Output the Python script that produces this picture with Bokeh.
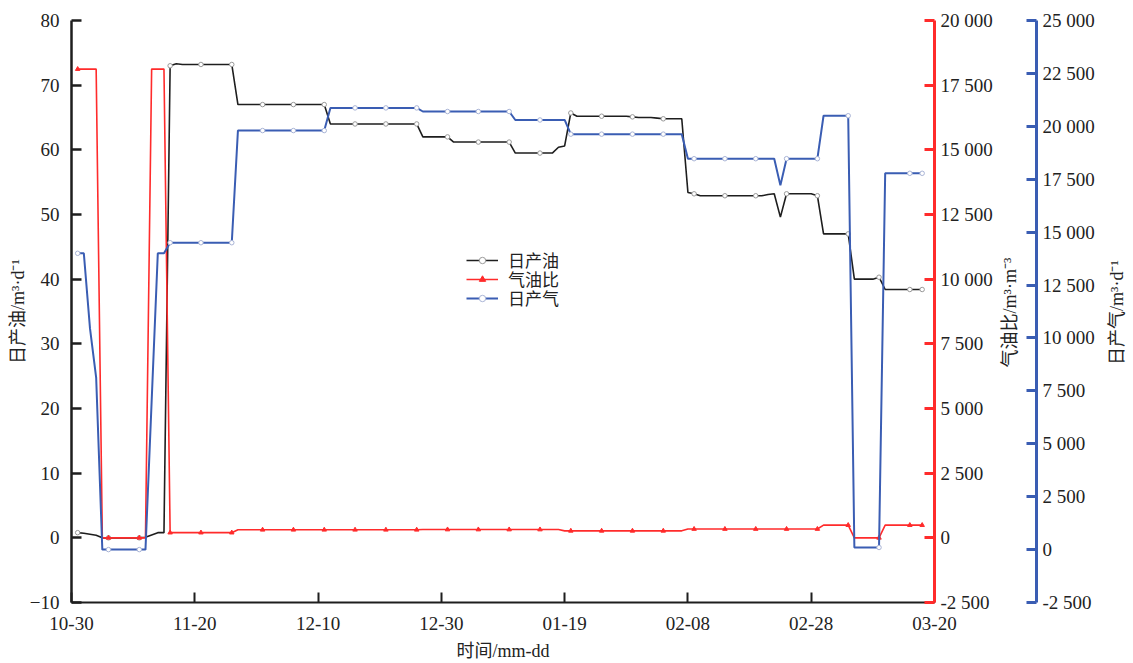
import math
from bokeh.plotting import figure
from bokeh.models import (Range1d, LinearAxis, FixedTicker, Legend, LegendItem,
                          ColumnDataSource, Label)
from bokeh.embed import file_html
from bokeh.resources import INLINE

# ---------------- data (day index from 10-30) ----------------
days = list(range(1, 139))

oil = [0.8, 0.7, 0.55, 0.4, 0.0, 0.0, 0.0, 0.0, 0.0, 0.0,
       0.0, 0.1, 0.45, 0.8, 0.8, 73.0, 73.3, 73.2, 73.2, 73.2,
       73.2, 73.2, 73.2, 73.2, 73.2, 73.2, 67.0, 67.0, 67.0, 67.0,
       67.0, 67.0, 67.0, 67.0, 67.0, 67.0, 67.0, 67.0, 67.0, 67.0,
       67.0, 64.0, 64.0, 64.0, 64.0, 64.0, 64.0, 64.0, 64.0, 64.0,
       64.0, 64.0, 64.0, 64.0, 64.0, 64.0, 62.0, 62.0, 62.0, 62.0,
       62.0, 61.2, 61.2, 61.2, 61.2, 61.2, 61.2, 61.2, 61.2, 61.2,
       61.2, 59.5, 59.5, 59.5, 59.5, 59.5, 59.5, 59.5, 60.4, 60.6,
       65.7, 65.2, 65.2, 65.2, 65.2, 65.2, 65.2, 65.2, 65.2, 65.2,
       65.1, 65.0, 65.0, 65.0, 64.9, 64.8, 64.8, 64.8, 64.8, 53.4,
       53.2, 52.9, 52.9, 52.9, 52.9, 52.9, 52.9, 52.9, 52.9, 52.9,
       52.9, 52.9, 53.1, 53.2, 49.6, 53.2, 53.2, 53.2, 53.2, 53.2,
       52.9, 47.0, 47.0, 47.0, 47.0, 47.0, 40.0, 40.0, 40.0, 40.0,
       40.3, 38.4, 38.4, 38.4, 38.4, 38.4, 38.4, 38.4]

gor = [18120, 18120, 18120, 18120, 0, 0, 0, 0, 0, 0,
       0, 0, 18120, 18120, 18120, 200, 200, 200, 200, 200,
       200, 200, 200, 200, 200, 200, 310, 310, 310, 310,
       310, 310, 310, 310, 310, 310, 310, 310, 310, 310,
       310, 310, 310, 310, 310, 310, 310, 310, 310, 310,
       310, 310, 310, 310, 310, 310, 320, 320, 320, 320,
       320, 320, 320, 320, 320, 320, 320, 320, 320, 320,
       320, 320, 320, 320, 320, 320, 320, 320, 320, 270,
       270, 270, 270, 270, 270, 270, 270, 270, 270, 270,
       270, 270, 270, 270, 270, 270, 270, 270, 270, 340,
       340, 340, 340, 340, 340, 340, 340, 340, 340, 340,
       340, 340, 340, 340, 340, 340, 340, 340, 340, 340,
       340, 490, 490, 490, 490, 490, 0, 0, 0, 0,
       0, 490, 490, 490, 490, 490, 490, 490]

gas = [14000, 14000, 10450, 8130, 0, 0, 0, 0, 0, 0,
       0, 0, 7000, 14000, 14000, 14500, 14500, 14500, 14500, 14500,
       14500, 14500, 14500, 14500, 14500, 14500, 19800, 19800, 19800, 19800,
       19800, 19800, 19800, 19800, 19800, 19800, 19800, 19800, 19800, 19800,
       19800, 20870, 20870, 20870, 20870, 20870, 20870, 20870, 20870, 20870,
       20870, 20870, 20870, 20870, 20870, 20870, 20700, 20700, 20700, 20700,
       20700, 20700, 20700, 20700, 20700, 20700, 20700, 20700, 20700, 20700,
       20700, 20300, 20300, 20300, 20300, 20300, 20300, 20300, 20300, 20300,
       19630, 19630, 19630, 19630, 19630, 19630, 19630, 19630, 19630, 19630,
       19630, 19630, 19630, 19630, 19630, 19630, 19630, 19630, 19630, 18470,
       18470, 18470, 18470, 18470, 18470, 18470, 18470, 18470, 18470, 18470,
       18470, 18470, 18470, 18470, 17210, 18470, 18470, 18470, 18470, 18470,
       18470, 20500, 20500, 20500, 20500, 20500, 100, 100, 100, 100,
       100, 17780, 17780, 17780, 17780, 17780, 17780, 17780]

x_ticks = [0, 20, 40, 60, 80, 100, 120, 140]
x_tick_labels = ["10-30", "11-20", "12-10", "12-30", "01-19", "02-08", "02-28", "03-20"]
oil_ticks = [-10, 0, 10, 20, 30, 40, 50, 60, 70, 80]
gor_ticks = [-2500, 0, 2500, 5000, 7500, 10000, 12500, 15000, 17500, 20000]
gor_tick_labels = ["-2 500", "0", "2 500", "5 000", "7 500", "10 000", "12 500",
                   "15 000", "17 500", "20 000"]
gas_ticks = [-2500, 0, 2500, 5000, 7500, 10000, 12500, 15000, 17500, 20000, 22500, 25000]
gas_tick_labels = ["-2 500", "0", "2 500", "5 000", "7 500", "10 000", "12 500",
                   "15 000", "17 500", "20 000", "22 500", "25 000"]

series_names = ["日产油", "气油比", "日产气"]

# ---------------- styles ----------------
BLACK = "#1e1e1e"
RED = "#ff2b2b"
BLUE = "#3a5db3"
NUM_FONT = "Liberation Serif"
MIX_FONT = "Liberation Serif, Noto Sans CJK SC"

p = figure(width=1133, height=663, x_range=Range1d(0, 140), y_range=Range1d(-10, 80),
           output_backend="svg", toolbar_location=None,
           min_border_left=71, min_border_top=20, min_border_right=199, min_border_bottom=0)
p.extra_y_ranges = {"gor": Range1d(-2500, 20000), "gas": Range1d(-2500, 25000)}
p.grid.visible = False
p.outline_line_color = None
p.background_fill_color = "white"
p.border_fill_color = "white"

def style_axis(ax, color, width):
    ax.axis_line_color = color
    ax.axis_line_width = width
    ax.major_tick_line_color = color
    ax.major_tick_line_width = width
    ax.major_tick_in = 10
    ax.major_tick_out = 0
    ax.minor_tick_line_color = None
    ax.major_label_text_font = NUM_FONT
    ax.major_label_text_font_size = "19px"
    ax.major_label_text_color = "#222222"
    ax.axis_label_text_font = MIX_FONT
    ax.axis_label_text_font_size = "18px"
    ax.axis_label_text_font_style = "normal"
    ax.axis_label_text_color = "#222222"
    ax.axis_label_text_line_height = 1.0

def side_title(text, x):
    return Label(x=x, y=290, x_units="screen", y_units="screen", text=text,
                 angle=math.pi / 2, text_align="center", text_baseline="middle",
                 text_font=MIX_FONT, text_font_size="18px", text_color="#222222")

# bottom axis
xa = p.xaxis[0]
style_axis(xa, BLACK, 2)
xa.ticker = FixedTicker(ticks=x_ticks)
xa.major_label_overrides = {t: l for t, l in zip(x_ticks, x_tick_labels)}
xa.major_label_standoff = 14
xa.axis_label = "时间/mm-dd"
xa.axis_label_standoff = 8

# left axis
ya = p.yaxis[0]
style_axis(ya, BLACK, 2.5)
ya.ticker = FixedTicker(ticks=oil_ticks)
ya.major_label_standoff = 12
ya.axis_label = "日产油/m³·d⁻¹"
ya.axis_label_standoff = -1

# red axis
ra = LinearAxis(y_range_name="gor")
style_axis(ra, RED, 3)
ra.ticker = FixedTicker(ticks=gor_ticks)
ra.major_label_overrides = {t: l for t, l in zip(gor_ticks, gor_tick_labels)}
ra.major_label_standoff = 6
p.add_layout(ra, "right")

# red axis title in its own side panel
p.add_layout(side_title("气油比/m³·m⁻³", 14), "right")

# spacer axis (empty gap before the blue axis)
sp = LinearAxis(y_range_name="gor", ticker=FixedTicker(ticks=[]))
sp.axis_line_color = None
sp.major_tick_line_color = None
sp.minor_tick_line_color = None
sp.major_label_text_font_size = "1px"
sp.axis_label = "\u00a0"
sp.axis_label_text_font_size = "2px"
sp.axis_label_standoff = 16
p.add_layout(sp, "right")

# blue axis
ba = LinearAxis(y_range_name="gas")
style_axis(ba, BLUE, 3)
ba.ticker = FixedTicker(ticks=gas_ticks)
ba.major_label_overrides = {t: l for t, l in zip(gas_ticks, gas_tick_labels)}
ba.major_label_standoff = 6
p.add_layout(ba, "right")

# blue axis title in its own side panel
p.add_layout(side_title("日产气/m³·d⁻¹", 19), "right")

# ---------------- glyphs ----------------
src = ColumnDataSource(dict(d=days, oil=oil, gor=gor, gas=gas))
mk_idx = list(range(0, len(days), 5)) + [len(days) - 1]
msrc = ColumnDataSource(dict(d=[days[i] for i in mk_idx],
                             oil=[oil[i] for i in mk_idx],
                             gor=[gor[i] for i in mk_idx],
                             gas=[gas[i] for i in mk_idx]))

l_oil = p.line("d", "oil", source=src, line_color=BLACK, line_width=1.6)
m_oil = p.scatter("d", "oil", source=msrc, marker="circle", size=4.5,
                  line_color="#9a9a9a", fill_color="white", line_width=1)
l_gor = p.line("d", "gor", source=src, y_range_name="gor", line_color=RED, line_width=1.6)
m_gor = p.scatter("d", "gor", source=msrc, y_range_name="gor", marker="triangle", size=4.5,
                  line_color=RED, fill_color=RED, line_width=1)
l_gas = p.line("d", "gas", source=src, y_range_name="gas", line_color=BLUE, line_width=2)
m_gas = p.scatter("d", "gas", source=msrc, y_range_name="gas", marker="circle", size=4.5,
                  line_color="#a9b4d6", fill_color="white", line_width=1)

# one single-item legend per series, stacked tightly like the original
legend_renderers = [[l_oil, m_oil], [l_gor, m_gor], [l_gas, m_gas]]
legend_y = [330, 311, 292]
for name, rends, ly in zip(series_names, legend_renderers, legend_y):
    lg = Legend(items=[LegendItem(label=name, renderers=rends)], location=(395, ly),
                glyph_width=32, glyph_height=16, label_height=16, spacing=0,
                padding=0, margin=0, border_line_color=None, background_fill_alpha=0,
                label_text_font=MIX_FONT, label_text_font_size="17px",
                label_text_color="#222222", label_standoff=10,
                label_text_line_height=1.0)
    p.add_layout(lg)

open("out.html", "w").write(file_html(p, INLINE))
